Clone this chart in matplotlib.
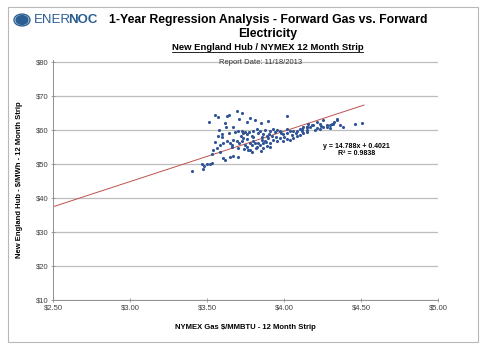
import matplotlib.pyplot as plt
from matplotlib.patches import Circle, Rectangle

plt.switch_backend('Agg')
plt.rcParams['font.family'] = ['Liberation Sans', 'DejaVu Sans']

# DATA: NYMEX gas ($/MMBTU) vs New England Hub power ($/MWh), 12 month strip
gas = [3.405, 3.472, 3.481, 3.498, 3.52, 3.53, 3.466,
       3.515, 3.552, 3.57, 3.628, 3.645, 3.693, 3.725, 3.71, 3.758, 3.78, 3.812,
       3.899, 3.851, 4.022, 3.671, 3.624, 3.596, 3.574,
       3.704, 3.725, 3.736, 3.747, 3.758, 3.775, 3.790, 3.801, 3.823, 3.834,
       3.844, 3.862, 3.877, 3.888, 3.909, 3.931, 3.942, 3.953, 3.974, 3.996,
       4.018, 4.039, 4.061, 4.083, 4.104, 4.126, 4.148, 4.158, 4.169, 4.191,
       4.212, 4.234, 4.256, 4.277, 4.310, 4.325, 4.342,
       3.585, 3.606, 3.628, 3.650, 3.660, 3.671, 3.693, 3.710, 3.725, 3.736,
       3.747, 3.758, 3.769, 3.780, 3.790, 3.801, 3.812, 3.823, 3.834, 3.844,
       3.855, 3.866, 3.877, 3.888, 3.899, 3.909, 3.931, 3.953, 3.974, 3.996,
       4.018, 4.039, 4.061, 4.083, 4.104, 4.126, 4.148,
       3.563, 3.585, 3.606, 3.617, 3.650, 3.671, 3.704, 3.541, 3.531, 3.780,
       3.790, 3.866, 3.909,
       4.115, 4.147, 4.18, 4.212, 4.234, 4.255, 4.299, 4.32, 4.342, 4.364,
       4.385, 4.461, 4.505,
       3.72, 3.76, 3.80, 3.68, 3.64, 3.60, 3.86, 3.90, 3.95, 3.98,
       4.02, 4.05, 4.08, 4.12, 4.15, 4.20, 4.24, 4.28, 4.30, 3.55,
       3.58, 3.62, 3.66, 3.70, 3.74, 3.82, 3.85, 3.88, 3.92, 4.00]
power = [47.9, 48.4, 49.3, 50.0, 50.0, 50.3, 49.8,
         62.3, 64.4, 63.6, 63.9, 64.4, 65.6, 64.9, 63.0, 62.3, 63.3, 62.8,
         62.6, 62.0, 64.1, 60.9, 60.7, 58.6, 58.1,
         59.7, 59.5, 58.9, 59.4, 58.6, 59.2, 58.1, 59.7, 60.2, 58.9,
         59.7, 58.6, 59.9, 58.1, 59.7, 60.2, 59.2, 59.9, 59.7, 58.6,
         58.9, 59.7, 59.5, 59.7, 60.2, 60.7, 60.9, 61.8, 60.7, 61.3,
         60.5, 60.2, 60.9, 60.7, 61.8, 62.3, 63.0,
         55.5, 56.0, 56.6, 56.0, 55.0, 57.1, 56.8, 56.0, 56.6, 57.6,
         55.5, 55.0, 54.0, 56.0, 55.5, 56.6, 56.0, 55.0, 56.0, 55.5,
         57.1, 56.0, 56.6, 55.3, 57.6, 56.0, 57.1, 56.8, 57.6, 56.6,
         57.4, 57.1, 57.6, 58.1, 58.4, 58.9, 59.2,
         54.5, 53.4, 51.6, 51.1, 51.9, 52.4, 51.9, 54.0, 52.9, 54.0,
         53.4, 54.5, 55.0,
         60.3, 60.8, 61.3, 62.4, 61.8, 62.8, 61.3, 61.8, 62.8, 61.3,
         60.8, 61.8, 62.0,
         58.2, 57.4, 57.9, 59.2, 58.9, 57.8, 57.8, 58.6, 58.0, 59.0,
         60.1, 58.5, 59.0, 59.5, 60.0, 60.0, 61.0, 61.5, 60.5, 56.5,
         60.0, 62.0, 55.5, 54.6, 54.2, 54.6, 53.8, 56.5, 58.2, 57.8]

slope, intercept = 14.788, 0.4021
r2 = 0.9838
fit_x = [2.5, 4.52]

x_ticks = [2.5, 3.0, 3.5, 4.0, 4.5, 5.0]
y_ticks = [10, 20, 30, 40, 50, 60, 70, 80]

W, H = 480, 355
fig = plt.figure(figsize=(W / 100, H / 100), dpi=100)

# outer chart border
fig.patches.append(Rectangle((8 / W, 1 - 342 / H), 470 / W, 335 / H,
                             transform=fig.transFigure, fill=False,
                             edgecolor='#b8b8b8', linewidth=0.8))

ax = fig.add_axes([53 / W, 1 - 300 / H, 385 / W, 240 / H])
ax.scatter(gas, power, s=5, color='#2f5597', zorder=3, linewidths=0)
ax.plot(fit_x, [slope * v + intercept for v in fit_x], color='#c0504d',
        linewidth=0.7, zorder=2)

ax.set_xlim(2.5, 5.0)
ax.set_ylim(10, 80.47)
ax.set_xticks(x_ticks)
ax.set_xticklabels([f"${v:.2f}" for v in x_ticks])
ax.set_yticks(y_ticks)
ax.set_yticklabels([f"${v}" for v in y_ticks])
ax.tick_params(labelsize=5.5, colors='#404040', length=3, width=0.6,
               direction='inout', color='#909090', pad=2)
for s in ['top', 'right']:
    ax.spines[s].set_visible(False)
for s in ['left', 'bottom']:
    ax.spines[s].set_color('#909090')
    ax.spines[s].set_linewidth(0.7)
ax.grid(axis='y', color='#bdbdbd', linewidth=0.9)
ax.set_axisbelow(True)

ax.set_xlabel("NYMEX Gas $/MMBTU - 12 Month Strip", fontsize=5.5,
              fontweight='bold', labelpad=9)
ax.set_ylabel("New England Hub - $/MWh - 12 Month Strip", fontsize=5.5,
              fontweight='bold', labelpad=9)

ax.text(4.47, 55.1, f"y = {slope}x + {intercept}", fontsize=5,
        fontweight='bold', ha='center', va='center')
ax.text(4.47, 52.9, f"R² = {r2}", fontsize=5,
        fontweight='bold', ha='center', va='center')

# titles
fig.text(268 / W, 1 - 20 / H, "1-Year Regression Analysis - Forward Gas vs. Forward",
         fontsize=8.8, fontweight='bold', ha='center', va='center')
fig.text(268 / W, 1 - 34 / H, "Electricity", fontsize=8.8,
         fontweight='bold', ha='center', va='center')
fig.text(268 / W, 1 - 47 / H, "New England Hub / NYMEX 12 Month Strip",
         fontsize=6.8, fontweight='bold', ha='center', va='center')
fig.lines.append(plt.Line2D([172 / W, 363 / W], [1 - 52 / H, 1 - 52 / H],
                            transform=fig.transFigure, color='black',
                            linewidth=0.6))
fig.text(261 / W, 1 - 62 / H, "Report Date: 11/18/2013", fontsize=5.5,
         ha='center', va='center', color='#333333')

# logo
logo_blue = '#2b5f93'
fig.patches.append(Circle((22 / W, 1 - 20 / H), 8 / W, transform=fig.transFigure,
                          fill=False, edgecolor=logo_blue, linewidth=1.0))
fig.patches.append(Circle((22 / W, 1 - 20 / H), 6 / W, transform=fig.transFigure,
                          color=logo_blue))
fig.text(34 / W, 1 - 20 / H, "ENER", fontsize=9.5, color=logo_blue,
         ha='left', va='center')
fig.text(68.5 / W, 1 - 20 / H, "NOC", fontsize=9.5, color=logo_blue,
         fontweight='bold', ha='left', va='center')

fig.savefig("out.png", dpi=100)
